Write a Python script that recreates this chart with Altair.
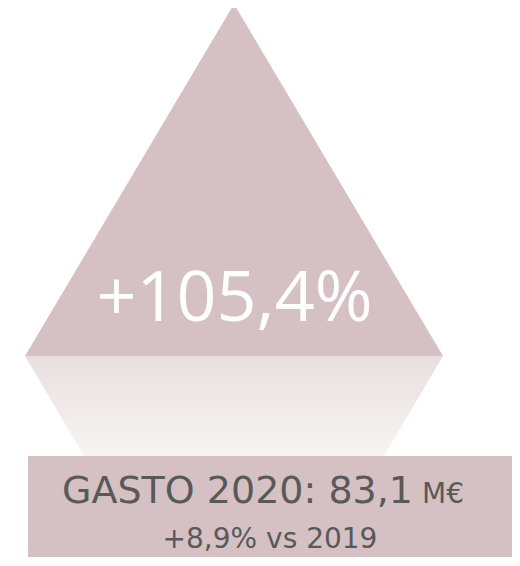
import altair as alt
import pandas as pd

# ---- values shown in the infographic ----
growth_total = 105.4          # % growth shown inside the triangle
spend_label = "GASTO"
spend_year = 2020
spend_value = 83.1
spend_unit = "M€"
growth_yoy = 8.9
compare_year = 2019


def es(v):
    return f"{v:.1f}".replace(".", ",")


big_text = f"+{es(growth_total)}%"
line1_text = f"{spend_label} {spend_year}: {es(spend_value)}"
line2_text = f"+{es(growth_yoy)}% vs {compare_year}"

# ---- layout (reference pixel space) ----
M = 8                 # page margin
VIEW_W, VIEW_H = 504, 549
tri_x = [25, 234, 443]
tri_top = [356, 4, 356]
base_y = 356
refl_x = [25, 84, 384, 443]
refl_top = [356, 356, 356, 356]
refl_bot = [356, 456, 456, 356]
box = dict(x=28, x2=513, y=456, y2=566)

MAUVE = "#d5c1c3"
GREY = "#595959"

xs = alt.Scale(domain=[M, M + VIEW_W], nice=False, zero=False)
ys = alt.Scale(domain=[M + VIEW_H, M], nice=False, zero=False)

tri_df = pd.DataFrame({"x": tri_x, "y": tri_top, "y2": [base_y] * 3})
triangle = alt.Chart(tri_df).mark_area(color=MAUVE, interpolate="linear").encode(
    x=alt.X("x:Q", scale=xs, axis=None),
    y=alt.Y("y:Q", scale=ys, axis=None),
    y2="y2:Q",
)

refl_df = pd.DataFrame({"x": refl_x, "y": refl_top, "y2": refl_bot})
reflection = alt.Chart(refl_df).mark_area(
    interpolate="linear",
    color=alt.Gradient(
        gradient="linear",
        stops=[
            alt.GradientStop(color="#e9dfe0", offset=0),
            alt.GradientStop(color="#f6f4f4", offset=1),
        ],
        x1=0, x2=0, y1=0, y2=1,
    ),
).encode(
    x=alt.X("x:Q", scale=xs, axis=None),
    y=alt.Y("y:Q", scale=ys, axis=None),
    y2="y2:Q",
)

box_df = pd.DataFrame([box])
rect = alt.Chart(box_df).mark_rect(color=MAUVE).encode(
    x=alt.X("x:Q", scale=xs, axis=None),
    x2="x2:Q",
    y=alt.Y("y:Q", scale=ys, axis=None),
    y2="y2:Q",
)

big_df = pd.DataFrame({"x": [234.5], "y": [321], "t": [big_text]})
big = alt.Chart(big_df).mark_text(
    font="Open Sans", fontSize=70, color="white", align="center", baseline="alphabetic"
).encode(x=alt.X("x:Q", scale=xs, axis=None), y=alt.Y("y:Q", scale=ys, axis=None), text="t:N")

l1_df = pd.DataFrame({"x": [413], "y": [503], "t": [line1_text]})
l1 = alt.Chart(l1_df).mark_text(
    font="DejaVu Sans", fontSize=38, color=GREY, align="right", baseline="alphabetic"
).encode(x=alt.X("x:Q", scale=xs, axis=None), y=alt.Y("y:Q", scale=ys, axis=None), text="t:N")

unit_df = pd.DataFrame({"x": [422], "y": [503], "t": [spend_unit]})
unit = alt.Chart(unit_df).mark_text(
    font="DejaVu Sans", fontSize=28, color=GREY, align="left", baseline="alphabetic"
).encode(x=alt.X("x:Q", scale=xs, axis=None), y=alt.Y("y:Q", scale=ys, axis=None), text="t:N")

l2_df = pd.DataFrame({"x": [270], "y": [548], "t": [line2_text]})
l2 = alt.Chart(l2_df).mark_text(
    font="DejaVu Sans", fontSize=28, color=GREY, align="center", baseline="alphabetic"
).encode(x=alt.X("x:Q", scale=xs, axis=None), y=alt.Y("y:Q", scale=ys, axis=None), text="t:N")

chart = alt.layer(reflection, triangle, rect, big, l1, unit, l2).properties(
    width=VIEW_W, height=VIEW_H,
    autosize=alt.AutoSizeParams(type="none"),
    padding=0,
    background="white",
).configure_view(stroke=None)

chart.save("out.html", embed_options={"renderer": "svg", "actions": False})
